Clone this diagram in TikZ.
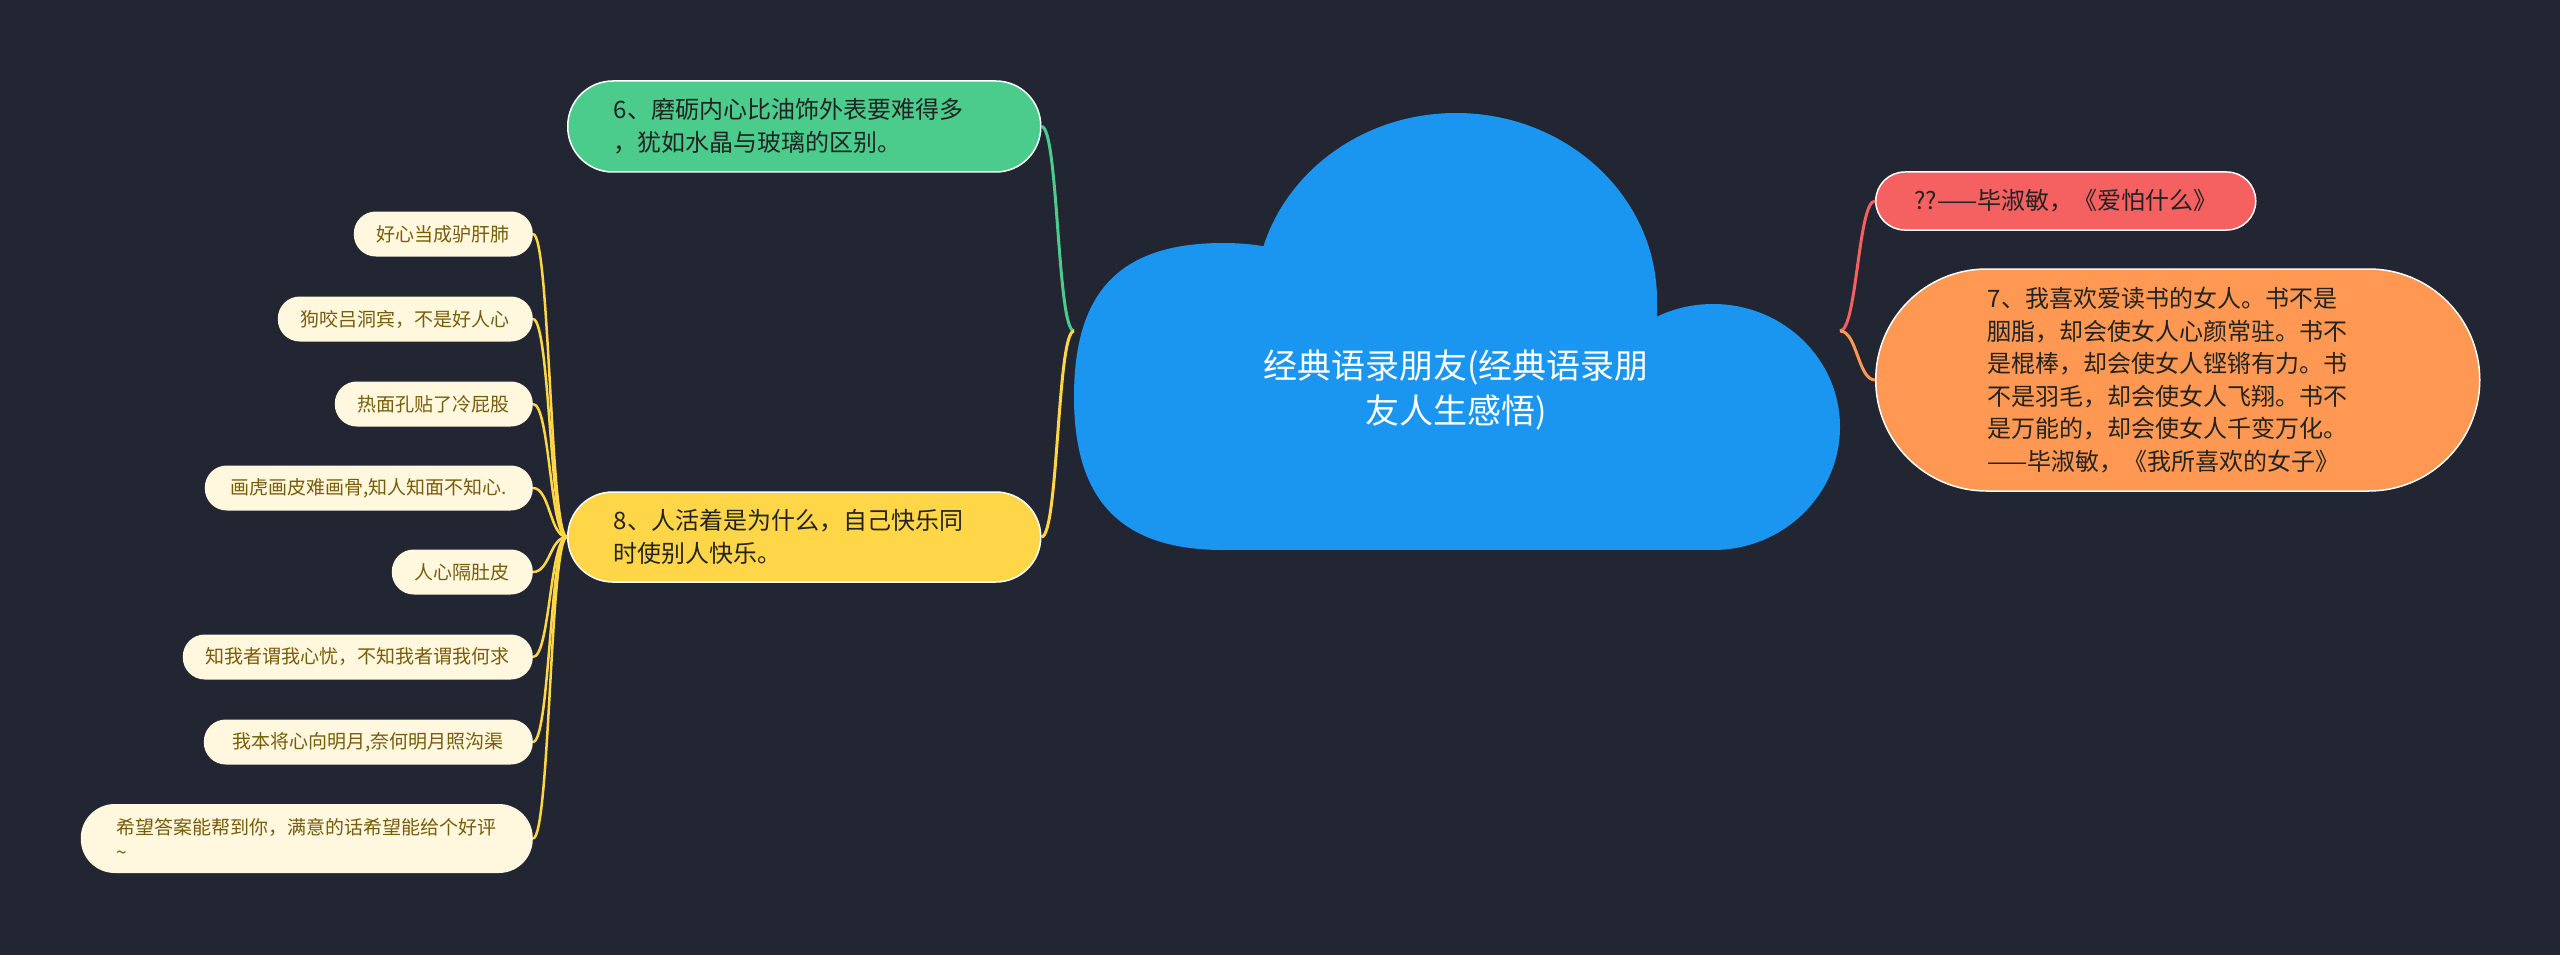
\documentclass[tikz,border=0pt]{standalone}
\usepackage{fontspec}
\setmainfont{Noto Sans CJK SC}
\definecolor{bg}{RGB}{34,38,50}
\definecolor{cblue}{RGB}{26,150,240}
\definecolor{cgreen}{RGB}{76,204,140}
\definecolor{cyellow}{RGB}{255,214,72}
\definecolor{cred}{RGB}{245,96,96}
\definecolor{corange}{RGB}{255,152,82}
\definecolor{ccream}{RGB}{255,248,222}
\definecolor{leaftext}{RGB}{120,92,10}
\definecolor{darktext}{RGB}{35,35,35}
\begin{document}
\begin{tikzpicture}[x=1pt,y=-1pt,
  branchbox/.style={draw=white, line width=1.5pt, text=darktext,
    font=\fontsize{24}{33}\selectfont, align=left, inner ysep=0pt},
  leafbox/.style={fill=ccream, text=leaftext, font=\fontsize{19}{25}\selectfont,
    inner xsep=23pt, inner ysep=0pt, minimum height=45pt, rounded corners=22pt, anchor=east},
  link/.style={line width=3pt},
  leaflink/.style={cyellow, line width=2.5pt}]
\useasboundingbox (0,0) rectangle (2560,955);
\fill[bg] (0,0) rectangle (2560,955);

% cloud
\begin{scope}[cblue]
\fill (1223,243) .. controls (1112,243) and (1074,300) .. (1074,397)
  .. controls (1074,494) and (1115,550) .. (1223,550)
  .. controls (1330,550) and (1372,494) .. (1372,397)
  .. controls (1372,300) and (1330,243) .. (1223,243) -- cycle;
\fill (1456,300) ellipse [x radius=201pt, y radius=187pt];
\fill (1713,427) ellipse [x radius=127pt, y radius=123pt];
\fill (1223,300) rectangle (1657,550);
\fill (1223,427) rectangle (1713,550);
\end{scope}
\node[text=white, font=\fontsize{34}{45}\selectfont, align=center] (root) at (1456,390)
  {经典语录朋友(经典语录朋\\友人生感悟)};
\coordinate (rootL) at (1074,331);
\coordinate (rootR) at (1840,331);

% branches
\node[branchbox, fill=cgreen, anchor=west, text width=381pt, inner xsep=46pt,
  minimum height=91pt, rounded corners=45pt] (g) at (567,126.5)
  {6、磨砺内心比油饰外表要难得多\\，犹如水晶与玻璃的区别。};
\node[branchbox, fill=cyellow, anchor=west, text width=381pt, inner xsep=46pt,
  minimum height=90pt, rounded corners=45pt] (y) at (567,537)
  {8、人活着是为什么，自己快乐同\\时使别人快乐。};
\node[branchbox, fill=cred, anchor=west, minimum width=380pt, align=center,
  minimum height=58pt, rounded corners=29pt] (r) at (1875,201)
  {??——毕淑敏，《爱怕什么》};
\node[branchbox, fill=corange, anchor=west, text width=380pt, inner xsep=112pt,
  minimum height=222pt, rounded corners=111pt, font=\fontsize{24}{32.5}\selectfont] (o) at (1875,380)
  {7、我喜欢爱读书的女人。书不是\\胭脂，却会使女人心颜常驻。书不\\是棍棒，却会使女人铿锵有力。书\\不是羽毛，却会使女人飞翔。书不\\是万能的，却会使女人千变万化。\\——毕淑敏，《我所喜欢的女子》};

% leaves
\node[leafbox] (l1) at (533,234) {好心当成驴肝肺};
\node[leafbox] (l2) at (533,319) {狗咬吕洞宾，不是好人心};
\node[leafbox] (l3) at (533,404) {热面孔贴了冷屁股};
\node[leafbox, minimum width=328pt] (l4) at (533,488) {画虎画皮难画骨,知人知面不知心.};
\node[leafbox] (l5) at (533,572) {人心隔肚皮};
\node[leafbox] (l6) at (533,657) {知我者谓我心忧，不知我者谓我何求};
\node[leafbox, minimum width=329pt] (l7) at (533,742) {我本将心向明月,奈何明月照沟渠};
\node[leafbox, text width=380pt, inner xsep=36pt, align=left, minimum height=69pt,
  rounded corners=34pt] (l8) at (533,838.5)
  {希望答案能帮到你，满意的话希望能给个好评\\\textasciitilde};

% connectors
\draw[link, cgreen] (rootL) .. controls +(-17,0) and +(17,0) .. (g.east);
\draw[link, cyellow] (rootL) .. controls +(-17,0) and +(17,0) .. (y.east);
\draw[link, cred] (rootR) .. controls +(17,0) and +(-17,0) .. (r.west);
\draw[link, corange] (rootR) .. controls +(17,0) and +(-17,0) .. (o.west);
\foreach \n in {l1,l2,l3,l4,l5,l6,l7,l8}
  \draw[leaflink] (y.west) .. controls +(-17,0) and +(17,0) .. (\n.east);
\end{tikzpicture}
\end{document}
